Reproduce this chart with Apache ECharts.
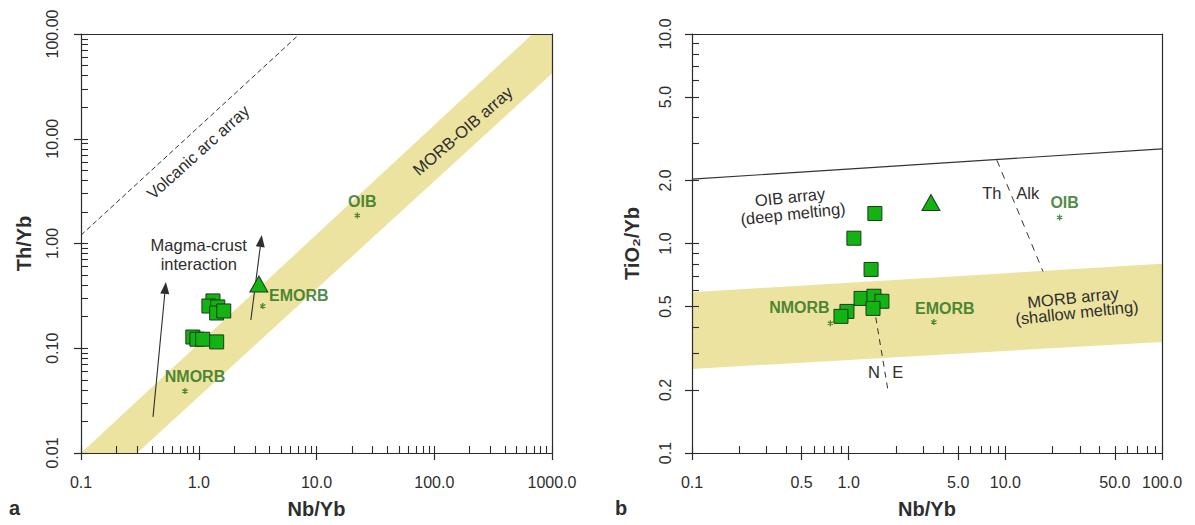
<!DOCTYPE html>
<html>
<head>
<meta charset="utf-8">
<script src="https://cdn.jsdelivr.net/npm/echarts@6/dist/echarts.min.js"></script>
<style>
  html, body { margin: 0; padding: 0; background: #ffffff; }
  #chart { width: 1195px; height: 525px; }
</style>
</head>
<body>
<div id="chart"></div>
<script>
// ---- Samples, panel a (Th/Yb vs Nb/Yb) ----
const sampleNbYbA = [1.32, 1.22, 1.45, 1.42, 1.63, 0.891, 0.964, 1.08, 1.42];
const sampleThYb  = [0.283, 0.253, 0.248, 0.217, 0.227, 0.128, 0.122, 0.122, 0.115];
const triNbYbA = [3.24];
const triThYb  = [0.41];

// ---- Samples, panel b (TiO2/Yb vs Nb/Yb) ----
const sampleNbYbB = [1.47, 1.08, 1.39, 1.20, 1.45, 1.63, 1.43, 0.975, 0.893];
const sampleTiYb  = [1.39, 1.06, 0.752, 0.547, 0.560, 0.530, 0.490, 0.474, 0.449];
const triNbYbB = [3.35];
const triTiYb  = [1.57];

// ---- Reference compositions ----
const refNames = ['NMORB', 'EMORB', 'OIB'];
const refNbYb  = [0.764, 3.50, 22.2];
const refThYb  = [0.039, 0.253, 1.85];
const refTiYb  = [0.416, 0.422, 1.33];

// ---- Field boundaries ----
const morbOibBand   = [[0.1, 0.01], [682, 100], [1000, 100], [1000, 42], [0.3, 0.01]];
const volcanicArc   = [[0.1, 1.2], [7.19, 100]];
const crustArrows   = [[0.409, 0.0221, 0.526, 0.429], [2.77, 0.186, 3.43, 1.205]];
const oibArrayTop   = [[0.1, 2.03], [100, 2.83]];
const morbArrayBand = [[0.1, 0.586], [100, 0.80], [100, 0.339], [0.1, 0.252]];
const neDivide      = [[1.45, 0.50], [1.78, 0.20]];
const thAlkDivide   = [[8.83, 2.50], [17.4, 0.735]];

// ---- Axis ticks and labels ----
const aTicksX = [0.1, 1, 10, 100, 1000];
const aLabelsX = ['0.1', '1.0', '10.0', '100.0', '1000.0'];
const aTicksY = [0.01, 0.1, 1, 10, 100];
const aLabelsY = ['0.01', '0.10', '1.00', '10.00', '100.00'];
const bTicksX = [0.1, 0.5, 1, 5, 10, 50, 100];
const bLabelsX = ['0.1', '0.5', '1.0', '5.0', '10.0', '50.0', '100.0'];
const bTicksY = [0.1, 0.2, 0.5, 1, 2, 5, 10];
const bLabelsY = ['0.1', '0.2', '0.5', '1.0', '2.0', '5.0', '10.0'];

// ---- Annotation text ----
const notesA = [
  { t: 'Volcanic arc array', x: 0.983, y: 7.48, rot: 42 },
  { t: 'MORB-OIB array', x: 174, y: 11.9, rot: 41 },
  { t: 'Magma-crust', x: 1.0, y: 0.968, rot: 0 },
  { t: 'interaction', x: 1.0, y: 0.637, rot: 0 }
];
const notesB = [
  { t: 'OIB array', x: 0.422, y: 1.67, rot: 6 },
  { t: '(deep melting)', x: 0.441, y: 1.39, rot: 6 },
  { t: 'MORB array', x: 27.0, y: 0.553, rot: 6 },
  { t: '(shallow melting)', x: 28.6, y: 0.469, rot: 6 },
  { t: 'Th', x: 8.2, y: 1.75, rot: 0 },
  { t: 'Alk', x: 13.9, y: 1.75, rot: 0 },
  { t: 'N', x: 1.45, y: 0.243, rot: 0 },
  { t: 'E', x: 2.06, y: 0.243, rot: 0 }
];
// label offsets (px) of the reference names from their asterisks
const refOffsetA = [[10, -15], [36, -11], [5, -14]];
const refOffsetB = [[-31, -16], [11, -13], [5, -15]];

// ---- Styling ----
const FONT = '"Liberation Sans", Arial, sans-serif';
const AX = '#2b2b2b';
const TXT = '#2e2e2e';
const BAND = '#ece3a0';
const SQ_FILL = '#12b312';
const SQ_EDGE = '#1b3a1b';
const REF_GREEN = '#1f6c15';

function minorsFor(lo, hi, majors) {
  const out = [];
  for (let e = Math.round(Math.log10(lo)); e < Math.round(Math.log10(hi)); e++) {
    for (let k = 2; k <= 9; k++) {
      const v = +(k * Math.pow(10, e)).toPrecision(6);
      if (!majors.some(m => Math.abs(m - v) < 1e-9)) out.push(v);
    }
  }
  return out;
}

function labelLookup(ticks, labels) {
  return function (v) {
    const i = ticks.findIndex(t => Math.abs(Math.log10(t) - Math.log10(v)) < 1e-6);
    return i >= 0 ? labels[i] : '';
  };
}

// three axes per side: labelled outer ticks, inner ticks, opposite frame line
function axesFor(isX, gridIndex, min, max, ticks, labels, name, nameGap, labelMargin) {
  const minors = minorsFor(min, max, ticks);
  const base = { type: 'log', logBase: 10, gridIndex, min, max, z: 10, splitLine: { show: false } };
  const main = Object.assign({}, base, {
    position: isX ? 'bottom' : 'left',
    axisLine: { show: true, onZero: false, lineStyle: { color: AX, width: 1.2 } },
    axisTick: { show: true, inside: false, length: 7, customValues: ticks, lineStyle: { color: AX, width: 1.2 } },
    axisLabel: {
      show: true, customValues: ticks, formatter: labelLookup(ticks, labels),
      margin: labelMargin, color: TXT, fontSize: 16, fontFamily: FONT, rotate: isX ? 0 : 90
    },
    name: name, nameLocation: 'middle', nameGap: nameGap,
    nameTextStyle: { color: TXT, fontSize: 20, fontWeight: 'bold', fontFamily: FONT }
  });
  const inner = Object.assign({}, base, {
    position: isX ? 'bottom' : 'left',
    axisLine: { show: false },
    axisTick: { show: true, inside: true, length: 7, customValues: ticks.concat(minors), lineStyle: { color: AX, width: 1.1 } },
    axisLabel: { show: false }
  });
  const frame = Object.assign({}, base, {
    position: isX ? 'top' : 'right',
    axisLine: { show: true, onZero: false, lineStyle: { color: AX, width: 1.2 } },
    axisTick: { show: false },
    axisLabel: { show: false }
  });
  return [main, inner, frame];
}

const xAxes = []
  .concat(axesFor(true, 0, 0.1, 1000, aTicksX, aLabelsX, 'Nb/Yb', 46, 21))
  .concat(axesFor(true, 1, 0.1, 100, bTicksX, bLabelsX, 'Nb/Yb', 46, 21));
const yAxes = []
  .concat(axesFor(false, 0, 0.01, 100, aTicksY, aLabelsY, 'Th/Yb', 47, 21))
  .concat(axesFor(false, 1, 0.1, 10, bTicksY, bLabelsY, 'TiO\u2082/Yb', 50, 19));

// axis index of each panel's main axes
const PA = 0, PB = 3;

function bandSeries(ax, pts) {
  return {
    type: 'custom', xAxisIndex: ax, yAxisIndex: ax, silent: true, z: 1, clip: true,
    data: [pts[0]],
    renderItem: function (params, api) {
      return { type: 'polygon', shape: { points: pts.map(p => api.coord(p)) }, style: { fill: BAND } };
    }
  };
}

function lineSeries(ax, pts, color, width, dash) {
  return {
    type: 'line', xAxisIndex: ax, yAxisIndex: ax, silent: true, z: 2,
    data: pts, symbol: 'none', animation: false,
    lineStyle: { color: color, width: width, type: dash || 'solid' }
  };
}

function arrowSeries(ax, arrows) {
  return {
    type: 'custom', xAxisIndex: ax, yAxisIndex: ax, silent: true, z: 2,
    dimensions: ['x1', 'y1', 'x2', 'y2'],
    encode: { x: [0, 2], y: [1, 3] },
    data: arrows,
    renderItem: function (params, api) {
      const p1 = api.coord([api.value(0), api.value(1)]);
      const p2 = api.coord([api.value(2), api.value(3)]);
      const ang = Math.atan2(p2[1] - p1[1], p2[0] - p1[0]);
      const L = 12, W = 4.5;
      const bx = p2[0] - L * Math.cos(ang), by = p2[1] - L * Math.sin(ang);
      const nx = -Math.sin(ang) * W, ny = Math.cos(ang) * W;
      return {
        type: 'group', children: [
          { type: 'line', shape: { x1: p1[0], y1: p1[1], x2: bx, y2: by }, style: { stroke: '#2e2e2e', lineWidth: 1.1 } },
          { type: 'polygon', shape: { points: [p2, [bx + nx, by + ny], [bx - nx, by - ny]] }, style: { fill: '#2e2e2e' } }
        ]
      };
    }
  };
}

function textSeries(ax, notes) {
  return {
    type: 'custom', xAxisIndex: ax, yAxisIndex: ax, silent: true, z: 4,
    data: notes.map(n => [n.x, n.y]),
    renderItem: function (params, api) {
      const n = notes[params.dataIndex];
      const p = api.coord([api.value(0), api.value(1)]);
      return {
        type: 'text', x: p[0], y: p[1], rotation: n.rot * Math.PI / 180,
        style: { text: n.t, fill: TXT, font: '16.5px ' + FONT, align: 'center', verticalAlign: 'middle' }
      };
    }
  };
}

function refSeries(ax, ys, offsets) {
  return {
    type: 'scatter', xAxisIndex: ax, yAxisIndex: ax, silent: true, z: 5,
    symbol: 'path://M5,0L5,10M0.67,2.5L9.33,7.5M0.67,7.5L9.33,2.5',
    symbolSize: 6, symbolKeepAspect: true,
    itemStyle: { color: 'none', borderColor: REF_GREEN, borderWidth: 1.3 },
    data: refNames.map((n, i) => ({
      name: n, value: [refNbYb[i], ys[i]],
      label: { offset: offsets[i] }
    })),
    label: {
      show: true, position: 'inside', formatter: '{b}',
      color: REF_GREEN, textBorderWidth: 0, textBorderColor: 'transparent',
      fontSize: 16, fontWeight: 'bold', fontFamily: FONT
    }
  };
}

function sampleSeries(ax, xs, ys, symbol, size) {
  return {
    type: 'scatter', xAxisIndex: ax, yAxisIndex: ax, silent: true, z: 6,
    symbol: symbol, symbolSize: size,
    itemStyle: { color: SQ_FILL, borderColor: SQ_EDGE, borderWidth: 1, opacity: 1 },
    data: xs.map((x, i) => [x, ys[i]])
  };
}

const option = {
  animation: false,
  backgroundColor: '#ffffff',
  grid: [
    { left: 81, top: 34, width: 471, height: 419 },
    { left: 692, top: 34, width: 470, height: 419 }
  ],
  xAxis: xAxes,
  yAxis: yAxes,
  series: [
    // panel a
    bandSeries(PA, morbOibBand),
    lineSeries(PA, volcanicArc, '#333', 1, [5, 3]),
    arrowSeries(PA, crustArrows),
    textSeries(PA, notesA),
    refSeries(PA, refThYb, refOffsetA),
    sampleSeries(PA, sampleNbYbA, sampleThYb, 'rect', 14),
    sampleSeries(PA, triNbYbA, triThYb, 'triangle', [18, 16]),
    // panel b
    bandSeries(PB, morbArrayBand),
    lineSeries(PB, oibArrayTop, '#333', 1.1),
    lineSeries(PB, neDivide, '#333', 1, [6, 5]),
    lineSeries(PB, thAlkDivide, '#333', 1, [7, 6]),
    textSeries(PB, notesB),
    refSeries(PB, refTiYb, refOffsetB),
    sampleSeries(PB, sampleNbYbB, sampleTiYb, 'rect', 14),
    sampleSeries(PB, triNbYbB, triTiYb, 'triangle', [18, 16])
  ],
  graphic: [
    { type: 'text', left: 9, top: 498, style: { text: 'a', fill: TXT, font: 'bold 20px ' + FONT } },
    { type: 'text', left: 615, top: 498, style: { text: 'b', fill: TXT, font: 'bold 20px ' + FONT } }
  ]
};

const chart = echarts.init(document.getElementById('chart'), null, { renderer: 'svg' });
chart.setOption(option);
</script>
</body>
</html>
